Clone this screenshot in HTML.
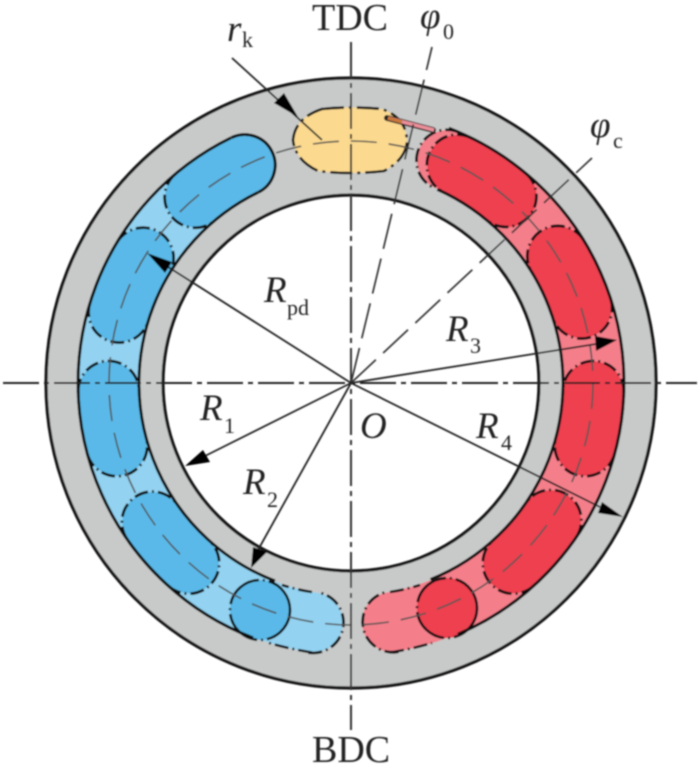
<!DOCTYPE html>
<html>
<head>
<meta charset="utf-8">
<style>
html,body{margin:0;padding:0;background:#fff;}
svg{display:block;width:700px;height:765px;}
text{font-family:"Liberation Serif",serif;fill:#222;}
.i{font-style:italic;font-size:37px;}
.s{font-size:22px;}
</style>
</head>
<body>
<svg viewBox="0 0 700 765" xmlns="http://www.w3.org/2000/svg">
<defs>
<filter id="b" x="-5%" y="-5%" width="110%" height="110%"><feGaussianBlur stdDeviation="0.85"/></filter>
<path id="cl" d="M351 110A30.5 30.5 0 0 0 351 171" fill="none" stroke="#111" stroke-width="2.8" stroke-dasharray="14 4 2 4"/>
<path id="cr" d="M351 110A30.5 30.5 0 0 1 351 171" fill="none" stroke="#111" stroke-width="2.8" stroke-dasharray="14 4 2 4"/>
</defs>
<g filter="url(#b)">
<!-- housing -->
<circle cx="351" cy="383" r="246.5" fill="none" stroke="#c8cac9" stroke-width="117"/>
<circle cx="351" cy="383" r="305" fill="none" stroke="#151515" stroke-width="3.2"/>
<circle cx="351" cy="383" r="188" fill="none" stroke="#151515" stroke-width="3.2"/>

<!-- blue light port and kidneys -->
<g fill="none" stroke-linecap="round" stroke-width="60">
<circle cx="351" cy="383" r="242.5" pathLength="360" stroke="#93d2f0" stroke-dasharray="131 360" transform="rotate(99 351 383)"/>
<circle cx="351" cy="383" r="242.5" pathLength="360" stroke="#5ab9e8" stroke-dasharray="14 360" transform="rotate(230 351 383)"/>
<circle cx="351" cy="383" r="242.5" pathLength="360" stroke="#5ab9e8" stroke-dasharray="14 360" transform="rotate(197 351 383)"/>
<circle cx="351" cy="383" r="242.5" pathLength="360" stroke="#5ab9e8" stroke-dasharray="13 360" transform="rotate(165 351 383)"/>
<circle cx="351" cy="383" r="242.5" pathLength="360" stroke="#5ab9e8" stroke-dasharray="13 360" transform="rotate(132 351 383)"/>
<!-- red light port and kidneys -->
<circle cx="351" cy="383" r="242.5" pathLength="360" stroke="#f47f8a" stroke-dasharray="147 360" transform="rotate(-66.7 351 383)"/>
<circle cx="351" cy="383" r="242.5" pathLength="360" stroke="#ee3f50" stroke-dasharray="14 360" transform="rotate(-64 351 383)"/>
<circle cx="351" cy="383" r="242.5" pathLength="360" stroke="#ee3f50" stroke-dasharray="13.5 360" transform="rotate(-31.5 351 383)"/>
<circle cx="351" cy="383" r="242.5" pathLength="360" stroke="#ee3f50" stroke-dasharray="13 360" transform="rotate(2 351 383)"/>
<circle cx="351" cy="383" r="242.5" pathLength="360" stroke="#ee3f50" stroke-dasharray="13.5 360" transform="rotate(34.5 351 383)"/>
</g>
<circle cx="260" cy="610" r="30" fill="#5ab9e8"/>
<circle cx="447" cy="608" r="30" fill="#ee3f50"/>

<!-- port side walls: solid part -->
<g fill="none" stroke="#111" stroke-width="3">
<circle cx="351" cy="383" r="273" pathLength="360" stroke-dasharray="133 360" transform="rotate(111 351 383)"/>
<circle cx="351" cy="383" r="212" pathLength="360" stroke-dasharray="133 360" transform="rotate(111 351 383)"/>
<circle cx="351" cy="383" r="273" pathLength="360" stroke-dasharray="136 360" transform="rotate(-69 351 383)"/>
<circle cx="351" cy="383" r="212" pathLength="360" stroke-dasharray="134 360" transform="rotate(-66 351 383)"/>
</g>
<!-- port side walls: dash-dot tail toward the end caps -->
<g fill="none" stroke="#111" stroke-width="2.6">
<path d="M312 652.5Q290 649 269 643M312 592Q298 590 282 585" stroke-dasharray="14 4 2 4"/>
<path d="M390 652.5Q412 649 432 643M390 592Q404 590 420 585" stroke-dasharray="14 4 2 4"/>
</g>

<!-- kidney end caps -->
<use href="#cl" transform="rotate(189 351 383)"/>
<use href="#cl" transform="rotate(320 351 383)"/>
<path d="M351 110A30.5 30.5 0 0 1 351 171" fill="none" stroke="#111" stroke-width="3" transform="rotate(334 351 383)"/>
<use href="#cl" transform="rotate(287 351 383)"/>
<use href="#cr" transform="rotate(301 351 383)"/>
<use href="#cl" transform="rotate(255 351 383)"/>
<use href="#cr" transform="rotate(268 351 383)"/>
<use href="#cl" transform="rotate(222 351 383)"/>
<use href="#cr" transform="rotate(235 351 383)"/>
<circle cx="260" cy="610" r="30" fill="none" stroke="#111" stroke-width="2.6" stroke-dasharray="40 4 2 4"/>

<use href="#cr" transform="rotate(170 351 383)"/>
<use href="#cl" transform="rotate(23.3 351 383)"/>
<use href="#cl" transform="rotate(26 351 383)"/>
<use href="#cr" transform="rotate(39.7 351 383)"/>
<use href="#cl" transform="rotate(58.5 351 383)"/>
<use href="#cr" transform="rotate(72 351 383)"/>
<use href="#cl" transform="rotate(92 351 383)"/>
<use href="#cr" transform="rotate(105 351 383)"/>
<use href="#cl" transform="rotate(124.5 351 383)"/>
<use href="#cr" transform="rotate(138 351 383)"/>
<circle cx="447" cy="608" r="30" fill="none" stroke="#111" stroke-width="2.6" stroke-dasharray="40 4 2 4"/>

<!-- yellow window -->
<path d="M322 109Q350 106 382 109Q407 118 407 142Q405 160 384 171Q350 175 318 171Q295 160 293 140Q295 118 322 109Z" fill="#fbd98f" stroke="#111" stroke-width="2.6" stroke-dasharray="22 5 3 5"/>

<!-- orange slot -->
<path d="M387 118L433 130" stroke="#222" stroke-width="6" stroke-linecap="round"/>
<path d="M388 118L434 130" stroke="#ec8f9a" stroke-width="3.5"/>
<path d="M388 118L402 122" stroke="#c9773a" stroke-width="3.5"/>

<!-- pitch circle -->
<circle cx="351" cy="383" r="242" fill="none" stroke="#555" stroke-width="1.6" stroke-dasharray="26 12"/>

<!-- centre lines -->
<path d="M3 383H697" stroke="#222" stroke-width="2" stroke-dasharray="36 5 5 5"/>
<path d="M351 42V730" stroke="#333" stroke-width="2" stroke-dasharray="36 5 5 5"/>
<path d="M351 383L432 47" stroke="#333" stroke-width="1.7" stroke-dasharray="36 10"/>
<path d="M351 383L592 158" stroke="#333" stroke-width="1.7" stroke-dasharray="34 10"/>

<!-- radius arrows -->
<g stroke="#222" stroke-width="1.8" fill="none">
<path d="M351 383L165 265"/>
<path d="M351 383L205 456"/>
<path d="M351 383L258 550"/>
<path d="M351 383L596 344"/>
<path d="M351 383L600 507"/>
<path d="M232 58L322 140"/>
</g>
<g fill="#000">
<polygon points="147,253 172,262 165,273"/>
<polygon points="185,466 203,450 210,462"/>
<polygon points="251,568 253,547 267,552"/>
<polygon points="617,340 595,336 596,351"/>
<polygon points="623,517 602,502 598,513"/>
<polygon points="298,117 274,103 284,93"/>
</g>

<!-- labels -->
<text x="312" y="30" font-size="38">TDC</text>
<text x="312" y="762" font-size="38">BDC</text>
<text x="227" y="41" class="i">r</text>
<text x="242" y="47" class="s">k</text>
<text x="420" y="28" class="i">φ</text>
<text x="443" y="39" class="s">0</text>
<text x="590" y="137" class="i">φ</text>
<text x="613" y="148" class="s">c</text>
<text x="264" y="302" class="i">R</text>
<text x="287" y="315" class="s">pd</text>
<text x="446" y="341" class="i">R</text>
<text x="470" y="353" class="s">3</text>
<text x="200" y="420" class="i">R</text>
<text x="224" y="433" class="s">1</text>
<text x="243" y="494" class="i">R</text>
<text x="267" y="507" class="s">2</text>
<text x="476" y="438" class="i">R</text>
<text x="501" y="450" class="s">4</text>
<text x="360" y="438" class="i">O</text>
</g>
</svg>
</body>
</html>
